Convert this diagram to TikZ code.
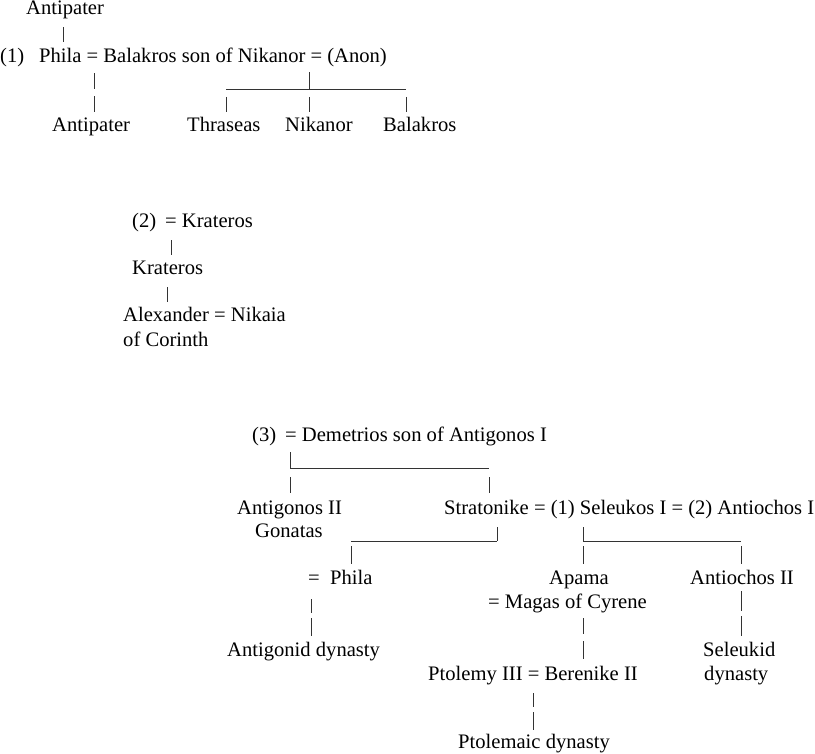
\documentclass[tikz,border=0pt]{standalone}
\usepackage{fontspec}
\setmainfont{Liberation Serif}

\tikzset{
  person/.style={inner sep=0pt, anchor=base west, text height=14pt, text depth=5pt,
    font=\fontsize{20.6}{24}\selectfont},
  kin/.style={draw=black!80, line width=0.9pt},
}

\begin{document}
\begin{tikzpicture}[x=1pt, y=-1pt]
	\useasboundingbox (0,0) rectangle (815,754);
	% (1) Phila = Balakros
	\node[person] (antip1) at (26,15) {Antipater};
	\node[person] (no1) at (0,63) {(1)};
	\node[person] (phila1) at (39,63) {Phila = Balakros son of Nikanor = (Anon)};
	\node[person] (antip2) at (52,132) {Antipater};
	\node[person] (thras) at (187,132) {Thraseas};
	\node[person] (nikan) at (285,132) {Nikanor};
	\node[person] (balak) at (383,132) {Balakros};
	\coordinate (fork1) at (309,89);
	\coordinate (fork1l) at (226,89);
	\coordinate (fork1r) at (406,89);
	\draw[kin, shorten <=7pt, shorten >=7pt] (antip1.south -| 63,0) -- (phila1.north -| 63,0);
	\draw[kin, dash pattern=on 16pt off 7pt, shorten <=5pt, shorten >=6pt] (phila1.south -| 94,0) -- (antip2.north -| 94,0);
	\draw[kin, shorten <=4pt] (phila1.south -| fork1) -- (fork1);
	\draw[kin] (fork1l) -- (fork1r);
	\draw[kin]  (fork1l) edge[shorten <=8pt, shorten >=6pt] (thras.north -| fork1l)
	            (fork1) edge[shorten <=8pt, shorten >=6pt] (nikan.north -| fork1)
	            (fork1r) edge[shorten <=8pt, shorten >=6pt] (balak.north -| fork1r);

	% (2) = Krateros
	\node[person] (no2) at (132,228) {(2)};
	\node[person] (krat1) at (165,228) {= Krateros};
	\node[person] (krat2) at (132,275) {Krateros};
	\node[person] (alex) at (123,322) {Alexander = Nikaia};
	\node[person] (alexb) at (123,347) {of Corinth};
	\draw[kin, shorten <=7pt, shorten >=6pt] (krat1.south -| 171,0) -- (krat2.north -| 171,0);
	\draw[kin, shorten <=7pt, shorten >=6pt] (krat2.south -| 167,0) -- (alex.north -| 167,0);

	% (3) = Demetrios
	\node[person] (no3) at (252,442) {(3)};
	\node[person] (demet) at (285,442) {= Demetrios son of Antigonos I};
	\node[person] (antig) at (237,514) {Antigonos II};
	\node[person] (gonat) at (255,537) {Gonatas};
	\node[person] (strat) at (444,514) {Stratonike = (1) Seleukos I = (2) Antiochos I};
	\node[person] (phila2) at (308,584) {= \ Phila};
	\node[person] (apama) at (549,584) {Apama};
	\node[person] (magas) at (488,608) {= Magas of Cyrene};
	\node[person] (antio2) at (690,584) {Antiochos II};
	\node[person] (antdyn) at (227,656) {Antigonid dynasty};
	\node[person] (seleuk) at (703,656) {Seleukid};
	\node[person] (seldyn) at (704,680) {dynasty};
	\node[person] (ptol) at (428,680) {Ptolemy III = Berenike II};
	\node[person] (ptodyn) at (458,748) {Ptolemaic dynasty};
	\coordinate (fork3) at (290,468);
	\coordinate (fork3r) at (489,468);
	\coordinate (fork4) at (497,541);
	\coordinate (fork4l) at (351,541);
	\coordinate (fork5) at (583,541);
	\coordinate (fork5r) at (741,541);
	\draw[kin, shorten <=5pt] (demet.south -| fork3) -- (fork3);
	\draw[kin] (fork3) -- (fork3r);
	\draw[kin]  (fork3) edge[shorten <=9pt, shorten >=7pt] (antig.north -| fork3)
	            (fork3r) edge[shorten <=9pt, shorten >=7pt] (strat.north -| fork3r);
	\draw[kin, shorten <=8pt] (strat.south -| fork4) -- (fork4);
	\draw[kin] (fork4l) -- (fork4);
	\draw[kin, shorten <=5pt, shorten >=6pt] (fork4l) -- (phila2.north -| fork4l);
	\draw[kin, shorten <=8pt] (strat.south -| fork5) -- (fork5);
	\draw[kin] (fork5) -- (fork5r);
	\draw[kin]  (fork5) edge[shorten <=5pt, shorten >=6pt] (apama.north -| fork5)
	            (fork5r) edge[shorten <=5pt, shorten >=6pt] (antio2.north -| fork5r);
	\draw[kin, dash pattern=on 14pt off 5pt on 18pt off 5pt, shorten <=10pt, shorten >=6pt] (phila2.south -| 311,0) -- (antdyn.north -| 311,0);
	\draw[kin, dash pattern=on 16pt off 7pt on 18pt off 7pt, shorten <=5pt, shorten >=7pt] (magas.south -| fork5) -- (ptol.north -| fork5);
	\draw[kin, dash pattern=on 20pt off 5pt, shorten <=2pt, shorten >=6pt] (antio2.south -| fork5r) -- (seleuk.north -| fork5r);
	\draw[kin, dash pattern=on 14pt off 5pt on 20pt off 6pt, shorten <=8pt, shorten >=4pt] (ptol.south -| 533,0) -- (ptodyn.north -| 533,0);
\end{tikzpicture}
\end{document}
